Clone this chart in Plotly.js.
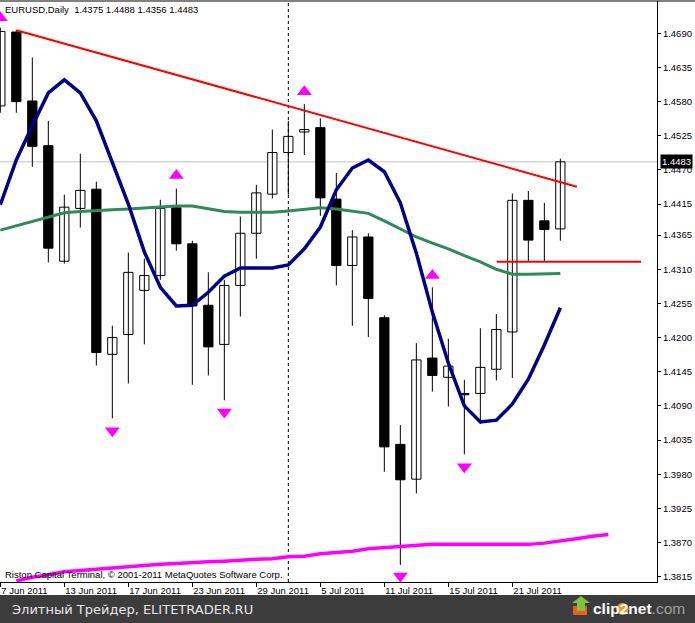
<!DOCTYPE html>
<html>
<head>
<meta charset="utf-8">
<script src="https://cdn.plot.ly/plotly-3.0.1.min.js"></script>
<style>html,body{margin:0;padding:0;background:#fff}#chart{width:695px;height:623px}</style>
</head>
<body>
<div id="chart"></div>
<script>
// ---- data ----
const symbolName = 'EURUSD,Daily';
const dates = ['7 Jun 2011','8 Jun 2011','9 Jun 2011','10 Jun 2011','13 Jun 2011','14 Jun 2011','15 Jun 2011','16 Jun 2011',
  '17 Jun 2011','20 Jun 2011','21 Jun 2011','22 Jun 2011','23 Jun 2011','24 Jun 2011','27 Jun 2011','28 Jun 2011',
  '29 Jun 2011','30 Jun 2011','1 Jul 2011','4 Jul 2011','5 Jul 2011','6 Jul 2011','7 Jul 2011','8 Jul 2011',
  '11 Jul 2011','12 Jul 2011','13 Jul 2011','14 Jul 2011','15 Jul 2011','18 Jul 2011','19 Jul 2011','20 Jul 2011',
  '21 Jul 2011','22 Jul 2011','25 Jul 2011','26 Jul 2011'];
const opens  = [1.4573,1.4692,1.4581,1.4509,1.4323,1.4408,1.4439,1.4173,1.4205,1.4276,1.4300,1.4409,1.4351,1.4252,1.4189,1.4284,
  1.4368,1.4431,1.4498,1.4531,1.4538,1.4423,1.4316,1.4362,1.4232,1.4028,1.3972,1.4167,1.4136,1.4110,1.4110,1.4149,1.4209,1.4421,1.4388,1.4375];
const highs  = [1.4699,1.4695,1.4651,1.4549,1.4430,1.4496,1.4451,1.4219,1.4337,1.4327,1.4422,1.4440,1.4356,1.4305,1.4293,1.4395,
  1.4446,1.4535,1.4549,1.4576,1.4553,1.4465,1.4373,1.4368,1.4236,1.4059,1.4191,1.4281,1.4198,1.4132,1.4215,1.4238,1.4432,1.4436,1.4417,1.4488];
const lows   = [1.4562,1.4562,1.4475,1.4321,1.4319,1.4377,1.4155,1.4070,1.4126,1.4189,1.4293,1.4340,1.4124,1.4139,1.4099,1.4234,
  1.4327,1.4424,1.4430,1.4494,1.4396,1.4284,1.4219,1.4201,1.3984,1.3834,1.3949,1.4113,1.4089,1.4012,1.4061,1.4131,1.4135,1.4323,1.4323,1.4356];
const closes = [1.4693,1.4580,1.4508,1.4344,1.4410,1.4437,1.4176,1.4200,1.4305,1.4300,1.4408,1.4351,1.4251,1.4185,1.4284,1.4368,
  1.4433,1.4498,1.4524,1.4535,1.4425,1.4316,1.4362,1.4263,1.4024,1.3971,1.4164,1.4139,1.4154,1.4108,1.4152,1.4213,1.4421,1.4357,1.4374,1.4483];
const blueMA  = [1.4414,1.4486,1.4541,1.4594,1.4615,1.4594,1.4549,1.4480,1.4415,1.4338,1.4281,1.4251,1.4252,1.4273,1.4299,1.4312,
  1.4312,1.4312,1.4317,1.4343,1.4378,1.4438,1.4473,1.4486,1.4467,1.4417,1.4336,1.4241,1.4159,1.4090,1.4064,1.4067,1.4093,1.4133,1.4188,1.4248];
const greenMA = [1.4373,1.4380,1.4388,1.4394,1.4401,1.4403,1.4405,1.4406,1.4407,1.4409,1.4411,1.4412,1.4412,1.4407,1.4403,1.4402,
  1.4402,1.4402,1.4404,1.4407,1.4409,1.4407,1.4404,1.4400,1.4388,1.4375,1.4362,1.4352,1.4343,1.4332,1.4322,1.4310,1.4302,1.4302,1.4302,1.4303];
const magentaStart = 1; // first bar index of the shifted long MA
const magentaMA = [1.3808,1.3814,1.3818,1.3823,1.3825,1.3827,1.3830,1.3832,1.3834,1.3835,1.3836,1.3838,1.3839,1.3840,1.3842,1.3843,
  1.3844,1.3847,1.3848,1.3852,1.3854,1.3856,1.3860,1.3862,1.3864,1.3865,1.3867,1.3867,1.3867,1.3867,1.3867,1.3867,1.3867,1.3869,1.3872,1.3876,1.3880,1.3883];
const fractalUpIdx = [0,11,19,27];
const fractalUpPrice = [1.4715,1.4461,1.4596,1.4300];
const fractalDownIdx = [7,14,25,29];
const fractalDownPrice = [1.4050,1.4080,1.3816,1.3992];
const trendX = [1, 36.03];
const trendY = [1.4695, 1.4443];
const supportX = [31.02, 40.04];
const supportY = [1.4322, 1.4322];
const vlineIdx = 18;
const priceTicks = [1.4690,1.4635,1.4580,1.4525,1.4470,1.4415,1.4365,1.4310,1.4255,1.4200,1.4145,1.4090,1.4035,1.3980,1.3925,1.3870,1.3815];
const dateTickEvery = 4;
const copyright = 'Riston Capital Terminal, © 2001-2011 MetaQuotes Software Corp.';
const footerText = 'Элитный Трейдер, ELITETRADER.RU';

// ---- build traces ----
const idx = dates.map((d,i)=>i);
const wx = [], wy = [];
idx.forEach(i=>{ wx.push(i,i,null); wy.push(lows[i],highs[i],null); });
const bodyH = idx.map(i=>Math.max(Math.abs(closes[i]-opens[i]),0.00008));
const bodyB = idx.map(i=>Math.min(opens[i],closes[i]));
const bodyC = idx.map(i=>closes[i]>=opens[i]?'#ffffff':'#000000');
const FONT = 'Liberation Sans, Arial, sans-serif';

const traces = [
  {type:'scatter', mode:'lines', x:wx, y:wy, line:{color:'#000',width:1}, hoverinfo:'skip'},
  {type:'bar', x:idx, y:bodyH, base:bodyB, width:0.58, marker:{color:bodyC, line:{color:'#000',width:1}}, hoverinfo:'skip'},
  {type:'scatter', mode:'lines', x:idx, y:greenMA, line:{color:'#2E8B57',width:3}, hoverinfo:'skip'},
  {type:'scatter', mode:'lines', x:idx, y:blueMA, line:{color:'#00008B',width:3.5}, hoverinfo:'skip'},
  {type:'scatter', mode:'lines', x:magentaMA.map((v,i)=>magentaStart+i), y:magentaMA, line:{color:'#FF00FF',width:3.5}, hoverinfo:'skip'},
  {type:'scatter', mode:'lines', x:trendX, y:trendY, line:{color:'#FF0000',width:2}, hoverinfo:'skip'},
  {type:'scatter', mode:'lines', x:supportX, y:supportY, line:{color:'#FF0000',width:2}, hoverinfo:'skip'},
  {type:'scatter', mode:'markers', x:fractalUpIdx, y:fractalUpPrice, marker:{symbol:'triangle-up', size:13, color:'#FF00FF'}, hoverinfo:'skip'},
  {type:'scatter', mode:'markers', x:fractalDownIdx, y:fractalDownPrice, marker:{symbol:'triangle-down', size:13, color:'#FF00FF'}, hoverinfo:'skip'}
];

const last = dates.length-1;
const tickIdx = idx.filter(i=>i%dateTickEvery===0);
const W = 695, H = 623;
const px = v=>v/W, py = v=>1-v/H;

const layout = {
  width:W, height:H, margin:{l:0,r:0,t:0,b:0},
  paper_bgcolor:'#fff', plot_bgcolor:'#fff', showlegend:false, barmode:'overlay',
  xaxis:{domain:[0, px(657)], range:[-0.02, 41.04], tickvals:tickIdx, ticktext:tickIdx.map(i=>dates[i]),
    ticks:'outside', ticklen:4, tickcolor:'#000', showline:true, linecolor:'#000', linewidth:1,
    showgrid:false, zeroline:false, ticklabelposition:'outside right',
    tickfont:{family:FONT, size:9.5, color:'#000'}},
  yaxis:{domain:[1-582/H, 1-1/H], range:[1.38064, 1.4742], side:'right', tickvals:priceTicks,
    ticktext:priceTicks.map(v=>v.toFixed(4)), ticks:'outside', ticklen:3, tickcolor:'#000',
    showline:true, linecolor:'#000', linewidth:1, showgrid:false, zeroline:false,
    tickfont:{family:FONT, size:9.5, color:'#000'}},
  shapes:[
    {type:'line', xref:'paper', yref:'y', x0:0, x1:px(657), y0:closes[last], y1:closes[last], line:{color:'#C0C0C0',width:1}, layer:'below'},
    {type:'line', xref:'x', yref:'paper', x0:vlineIdx, x1:vlineIdx, y0:1-582/H, y1:1-1/H, line:{color:'#000',width:1,dash:'3px,3px'}, layer:'below'},
    {type:'line', xref:'paper', yref:'paper', x0:0, x1:1, y0:py(1), y1:py(1), line:{color:'#000',width:1}},
    {type:'rect', xref:'paper', yref:'paper', x0:0, x1:1, y0:0, y1:py(595), fillcolor:'#3c3c3c', line:{width:0}},
    {type:'path', xref:'paper', yref:'paper', path:`M ${px(573)} ${py(606)} L ${px(573)} ${py(615)} L ${px(587)} ${py(615)} L ${px(587)} ${py(606)} Z`, fillcolor:'#e8601c', line:{width:0}},
    {type:'path', xref:'paper', yref:'paper', path:`M ${px(577)} ${py(611)} L ${px(577)} ${py(603)} L ${px(572)} ${py(603)} L ${px(581)} ${py(596)} L ${px(590)} ${py(603)} L ${px(585)} ${py(603)} L ${px(585)} ${py(611)} Z`, fillcolor:'#7dc242', line:{width:0}},
    {type:'circle', xref:'paper', yref:'paper', x0:px(616.5), x1:px(628.5), y0:py(603), y1:py(615), fillcolor:'#f7941d', line:{width:0}}
  ],
  annotations:[
    {xref:'paper', yref:'paper', x:px(3), y:py(9), xanchor:'left', yanchor:'middle', showarrow:false,
     text:`${symbolName}  ${opens[last].toFixed(4)} ${highs[last].toFixed(4)} ${lows[last].toFixed(4)} ${closes[last].toFixed(4)}`,
     font:{family:FONT, size:9.5, color:'#000'}},
    {xref:'paper', yref:'paper', x:px(3), y:py(574), xanchor:'left', yanchor:'middle', showarrow:false,
     text:copyright, font:{family:FONT, size:9.5, color:'#000'}},
    {xref:'paper', yref:'y', x:px(660), y:closes[last], xanchor:'left', yanchor:'middle', showarrow:false,
     text:closes[last].toFixed(4), bgcolor:'#000', borderpad:1, font:{family:FONT, size:9.5, color:'#fff'}},
    {xref:'paper', yref:'paper', x:px(10), y:py(609), xanchor:'left', yanchor:'middle', showarrow:false,
     text:footerText, font:{family:'DejaVu Sans, sans-serif', size:13, color:'#e6e6e6'}},
    {xref:'paper', yref:'paper', x:px(591), y:py(608), xanchor:'left', yanchor:'middle', showarrow:false,
     text:'<b>clip</b><b><span style="color:#ffffff">2</span></b><b>net</b><span style="color:#a0a0a0">.com</span>',
     font:{family:FONT, size:15.5, color:'#ffffff'}}
  ]
};

Plotly.newPlot('chart', traces, layout, {staticPlot:true, displayModeBar:false});
</script>
</body>
</html>
